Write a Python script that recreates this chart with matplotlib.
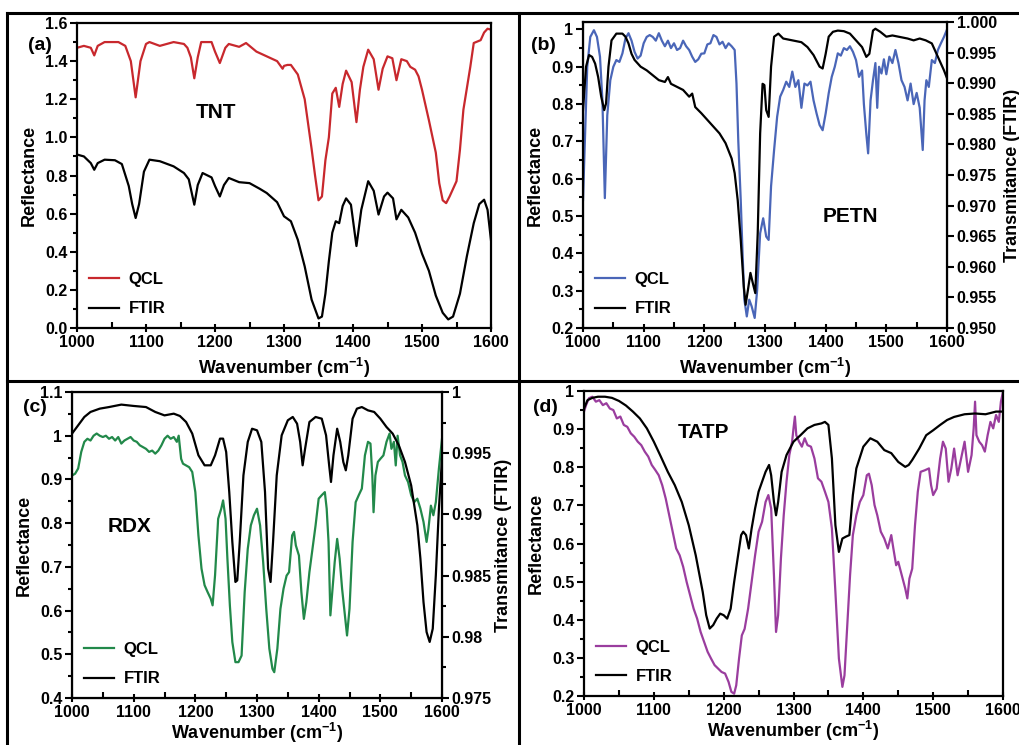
import matplotlib
matplotlib.use("Agg")
import matplotlib.pyplot as plt
from matplotlib.lines import Line2D
from matplotlib.ticker import MultipleLocator, FormatStrFormatter, FuncFormatter

plt.rcParams['font.family'] = ['Liberation Sans', 'DejaVu Sans']
plt.rcParams['font.weight'] = 'bold'
plt.rcParams['axes.labelweight'] = 'bold'
plt.rcParams['mathtext.fontset'] = 'custom'
plt.rcParams['mathtext.rm'] = 'Liberation Sans:bold'
plt.rcParams['mathtext.it'] = 'Liberation Sans:bold'
plt.rcParams['mathtext.bf'] = 'Liberation Sans:bold'

W, H = 1019, 745

# ---------------- (a) TNT ----------------
tnt_qcl_x = [1000, 1010, 1020, 1025, 1030, 1040, 1060, 1070, 1078, 1085, 1092, 1100, 1105, 1120, 1140,
             1155, 1160, 1165, 1170, 1175, 1180, 1195, 1200, 1207, 1215, 1220, 1235, 1245, 1260, 1275,
             1290, 1298, 1300, 1305, 1310, 1320, 1330, 1340, 1345, 1350, 1355, 1360, 1365, 1370, 1375,
             1380, 1385, 1390, 1398, 1405, 1410, 1415, 1422, 1430, 1437, 1443, 1450, 1457, 1463, 1470,
             1478, 1483, 1490, 1495, 1500, 1510, 1520, 1525, 1530, 1535, 1540, 1550, 1555, 1560, 1570,
             1575, 1585, 1590, 1595, 1600]
tnt_qcl = [1.47, 1.48, 1.47, 1.43, 1.48, 1.50, 1.50, 1.48, 1.40, 1.21, 1.40, 1.49, 1.50, 1.48, 1.50,
           1.49, 1.47, 1.42, 1.31, 1.42, 1.50, 1.50, 1.45, 1.39, 1.47, 1.49, 1.475, 1.495, 1.45, 1.425,
           1.40, 1.36, 1.375, 1.38, 1.38, 1.33, 1.20, 0.94, 0.80, 0.67, 0.69, 0.88, 1.0, 1.23, 1.26,
           1.16, 1.28, 1.35, 1.29, 1.08, 1.25, 1.37, 1.46, 1.41, 1.25, 1.36, 1.425, 1.415, 1.30, 1.41,
           1.40, 1.37, 1.355, 1.32, 1.25, 1.09, 0.92, 0.76, 0.67, 0.655, 0.69, 0.77, 0.935, 1.145, 1.37,
           1.495, 1.51, 1.55, 1.57, 1.565]
tnt_ftir_x = [1000, 1010, 1020, 1025, 1030, 1040, 1055, 1065, 1075, 1080, 1085, 1090, 1097, 1105, 1120,
              1140, 1155, 1162, 1170, 1175, 1182, 1195, 1200, 1207, 1213, 1220, 1235, 1250, 1265, 1275,
              1290, 1300, 1310, 1320, 1330, 1340, 1350, 1355, 1360, 1365, 1370, 1375, 1380, 1385, 1390,
              1397, 1405, 1412, 1422, 1430, 1437, 1445, 1450, 1458, 1463, 1470, 1480, 1490, 1500, 1510,
              1520, 1530, 1538, 1545, 1555, 1565, 1575, 1583, 1590, 1595, 1600]
tnt_ftir = [0.91, 0.90, 0.865, 0.83, 0.865, 0.883, 0.88, 0.86, 0.745, 0.65, 0.577, 0.65, 0.82, 0.883, 0.875,
            0.848, 0.813, 0.78, 0.647, 0.75, 0.813, 0.79, 0.745, 0.69, 0.75, 0.787, 0.765, 0.76, 0.73, 0.708,
            0.66, 0.586, 0.56, 0.463, 0.323, 0.149, 0.05, 0.06, 0.18, 0.35, 0.50, 0.56, 0.55, 0.64, 0.68,
            0.647, 0.43, 0.62, 0.77, 0.72, 0.595, 0.69, 0.71, 0.68, 0.57, 0.62, 0.58, 0.50, 0.39, 0.30,
            0.17, 0.08, 0.045, 0.06, 0.18, 0.376, 0.55, 0.65, 0.673, 0.62, 0.46]

# ---------------- (b) PETN ----------------
petn_qcl_x = [1000, 1003, 1007, 1012, 1018, 1023, 1028, 1032, 1036, 1040, 1045, 1050, 1055, 1060, 1065,
              1070, 1075, 1080, 1085, 1090, 1095, 1100, 1105, 1110, 1115, 1120, 1125, 1130, 1135, 1140,
              1145, 1150, 1155, 1160, 1165, 1170, 1175, 1180, 1185, 1190, 1195, 1200, 1205, 1210, 1215,
              1220, 1225, 1230, 1235, 1240, 1245, 1250, 1253, 1256, 1260, 1263, 1266, 1270, 1274, 1278,
              1283, 1287, 1292, 1297, 1302, 1306, 1310, 1315, 1320, 1325, 1330, 1335, 1340, 1345, 1350,
              1355, 1360, 1365, 1370, 1375, 1380, 1385, 1390, 1395, 1400, 1405, 1410, 1415, 1420, 1425,
              1430, 1435, 1440, 1445, 1450, 1455, 1460, 1463, 1467, 1470, 1474, 1478, 1482, 1485, 1488,
              1492, 1496, 1500, 1505, 1510, 1515, 1520, 1525, 1530, 1535, 1540, 1545, 1550, 1555, 1558,
              1560, 1563, 1566, 1570, 1575, 1580, 1585, 1590, 1595, 1600]
petn_qcl = [0.543, 0.70, 0.90, 0.98, 0.998, 0.98, 0.927, 0.81, 0.548, 0.77, 0.864, 0.90, 0.918, 0.913, 0.936,
            0.976, 0.99, 0.97, 0.94, 0.922, 0.93, 0.963, 0.98, 0.985, 0.98, 0.97, 0.99, 0.97, 0.955, 0.97,
            0.95, 0.963, 0.945, 0.95, 0.97, 0.955, 0.945, 0.927, 0.913, 0.92, 0.935, 0.936, 0.96, 0.963, 0.985,
            0.98, 0.96, 0.967, 0.95, 0.963, 0.955, 0.945, 0.855, 0.70, 0.543, 0.40, 0.276, 0.231, 0.276, 0.258,
            0.227, 0.30, 0.454, 0.494, 0.445, 0.436, 0.58, 0.677, 0.766, 0.82, 0.838, 0.86, 0.846, 0.887, 0.846,
            0.864, 0.79, 0.855, 0.85, 0.86, 0.81, 0.775, 0.744, 0.73, 0.775, 0.829, 0.873, 0.90, 0.936, 0.93,
            0.95, 0.945, 0.955, 0.94, 0.918, 0.873, 0.89, 0.80, 0.72, 0.668, 0.81, 0.864, 0.91, 0.79, 0.90,
            0.882, 0.92, 0.88, 0.927, 0.91, 0.945, 0.91, 0.864, 0.846, 0.81, 0.855, 0.80, 0.83, 0.79, 0.72,
            0.677, 0.81, 0.864, 0.846, 0.918, 0.91, 0.945, 0.963, 0.98, 1.0]
petn_ftir_x = [1000, 1005, 1010, 1015, 1020, 1025, 1030, 1035, 1038, 1042, 1047, 1055, 1065, 1070, 1075,
               1080, 1085, 1095, 1105, 1115, 1125, 1135, 1140, 1145, 1155, 1165, 1175, 1180, 1185, 1195,
               1205, 1215, 1225, 1235, 1245, 1250, 1255, 1260, 1265, 1268, 1272, 1276, 1280, 1284, 1288,
               1292, 1296, 1299, 1302, 1306, 1310, 1315, 1322, 1330, 1345, 1360, 1370, 1380, 1390, 1395,
               1400, 1405, 1412, 1420, 1430, 1440, 1450, 1460, 1467, 1472, 1478, 1482, 1490, 1500, 1510,
               1520, 1535, 1545, 1555, 1565, 1575, 1585, 1595, 1600]
petn_ftir = [0.9856, 0.9927, 0.9946, 0.9943, 0.9932, 0.9910, 0.9878, 0.9856, 0.9867, 0.9927, 0.9970, 0.9981,
             0.9981, 0.9976, 0.9965, 0.9948, 0.9938, 0.9927, 0.9921, 0.9913, 0.9905, 0.9902, 0.9910, 0.9899,
             0.9894, 0.9889, 0.9878, 0.9883, 0.9861, 0.9851, 0.9840, 0.9829, 0.9818, 0.9802, 0.9777, 0.9753,
             0.9709, 0.9644, 0.9568, 0.9538, 0.9563, 0.9590, 0.9573, 0.9557, 0.9655, 0.9818, 0.9899, 0.9897,
             0.9856, 0.9845, 0.9927, 0.9976, 0.9981, 0.9973, 0.9970, 0.9967, 0.9959, 0.9946, 0.9927, 0.9924,
             0.9948, 0.9976, 0.9984, 0.9986, 0.9985, 0.9981, 0.9970, 0.9959, 0.9943, 0.9948, 0.9986, 0.9989,
             0.9984, 0.9976, 0.9978, 0.9976, 0.9973, 0.9970, 0.9973, 0.9970, 0.9965, 0.9943, 0.9921, 0.9908]

# ---------------- (c) RDX ----------------
rdx_qcl_x = [1000, 1005, 1010, 1015, 1020, 1025, 1030, 1035, 1040, 1045, 1050, 1055, 1060, 1065, 1070,
             1075, 1080, 1085, 1090, 1095, 1100, 1105, 1110, 1115, 1120, 1125, 1130, 1135, 1140, 1145,
             1150, 1155, 1160, 1165, 1170, 1173, 1177, 1180, 1185, 1190, 1195, 1200, 1205, 1210, 1215,
             1220, 1225, 1228, 1232, 1237, 1242, 1245, 1249, 1252, 1256, 1260, 1265, 1270, 1275, 1280,
             1285, 1290, 1295, 1300, 1305, 1310, 1315, 1320, 1325, 1328, 1333, 1338, 1343, 1348, 1352,
             1357, 1360, 1363, 1368, 1372, 1376, 1380, 1385, 1390, 1395, 1400, 1405, 1410, 1413, 1416,
             1419, 1422, 1426, 1430, 1434, 1438, 1442, 1446, 1450, 1455, 1460, 1465, 1470, 1475, 1480,
             1484, 1487, 1489, 1492, 1496, 1500, 1505, 1510, 1515, 1518, 1522, 1525, 1528, 1532, 1536,
             1540, 1545, 1550, 1555, 1560, 1565, 1570, 1575, 1578, 1582, 1586, 1590, 1595, 1600]
rdx_qcl = [0.909, 0.913, 0.925, 0.963, 0.986, 0.993, 0.989, 1.0, 1.005, 1.0, 0.997, 1.0, 0.993, 0.997, 0.989,
           0.997, 0.982, 0.989, 0.993, 0.997, 0.989, 0.986, 0.978, 0.974, 0.970, 0.963, 0.966, 0.959, 0.966, 0.978,
           0.993, 1.0, 0.993, 0.997, 0.986, 1.0, 0.947, 0.936, 0.932, 0.928, 0.917, 0.871, 0.772, 0.696, 0.658,
           0.642, 0.627, 0.612, 0.681, 0.81, 0.833, 0.852, 0.81, 0.719, 0.612, 0.528, 0.482, 0.482, 0.497, 0.642,
           0.741, 0.795, 0.818, 0.833, 0.795, 0.711, 0.604, 0.513, 0.467, 0.459, 0.513, 0.604, 0.65, 0.68, 0.688,
           0.772, 0.78, 0.749, 0.726, 0.642, 0.581, 0.619, 0.688, 0.741, 0.795, 0.856, 0.864, 0.871, 0.833, 0.757,
           0.589, 0.642, 0.711, 0.764, 0.719, 0.65, 0.597, 0.543, 0.604, 0.757, 0.848, 0.864, 0.879, 0.955, 0.986,
           0.982, 0.909, 0.825, 0.909, 0.94, 0.947, 0.955, 0.986, 1.005, 0.97, 0.986, 0.932, 1.0, 0.955, 0.94,
           0.909, 0.894, 0.864, 0.848, 0.856, 0.833, 0.803, 0.757, 0.787, 0.84, 0.818, 0.848, 0.925, 0.993]
rdx_ftir_x = [1000, 1010, 1020, 1030, 1045, 1060, 1080, 1100, 1120, 1135, 1150, 1165, 1175, 1185, 1195,
              1205, 1215, 1225, 1232, 1240, 1245, 1250, 1255, 1260, 1265, 1268, 1272, 1278, 1285, 1292,
              1300, 1307, 1313, 1318, 1322, 1326, 1332, 1340, 1350, 1358, 1365, 1370, 1374, 1378, 1385,
              1395, 1405, 1412, 1417, 1420, 1424, 1430, 1435, 1440, 1444, 1448, 1455, 1462, 1470, 1480,
              1490, 1500, 1510, 1520, 1530, 1540, 1550, 1560, 1565, 1570, 1575, 1580, 1585, 1590, 1595, 1600]
rdx_ftir = [0.99660, 0.99728, 0.99796, 0.99837, 0.99864, 0.99877, 0.99897, 0.99886, 0.99877, 0.99837, 0.99809,
            0.99823, 0.99804, 0.99755, 0.99660, 0.99483, 0.99401, 0.99401, 0.99483, 0.99619, 0.99619, 0.99510,
            0.99183, 0.98775, 0.98448, 0.98461, 0.98775, 0.99319, 0.99592, 0.99700, 0.99687, 0.99592, 0.99183,
            0.98557, 0.98448, 0.98775, 0.99319, 0.99646, 0.99769, 0.99796, 0.99741, 0.99592, 0.99401, 0.99537,
            0.99755, 0.99796, 0.99782, 0.99646, 0.99401, 0.99265, 0.99483, 0.99700, 0.99592, 0.99428, 0.99360,
            0.99483, 0.99782, 0.99864, 0.99877, 0.99850, 0.99837, 0.99782, 0.99714, 0.99660, 0.99564, 0.99428,
            0.99237, 0.98911, 0.98638, 0.98284, 0.98039, 0.97958, 0.98066, 0.98502, 0.99047, 0.99455]

# ---------------- (d) TATP ----------------
tatp_qcl_x = [1000, 1003, 1007, 1012, 1017, 1022, 1027, 1032, 1037, 1042, 1047, 1052, 1057, 1062, 1067,
              1072, 1077, 1082, 1087, 1092, 1097, 1102, 1107, 1112, 1117, 1122, 1127, 1132, 1137, 1142,
              1147, 1152, 1157, 1162, 1167, 1172, 1177, 1182, 1187, 1192, 1197, 1202, 1207, 1211, 1215,
              1218, 1222, 1226, 1230, 1235, 1240, 1245, 1250, 1255, 1260, 1264, 1268, 1272, 1275, 1278,
              1282, 1286, 1290, 1294, 1298, 1300, 1302, 1304, 1308, 1312, 1316, 1320, 1325, 1330, 1335,
              1340, 1345, 1350, 1355, 1360, 1365, 1370, 1373, 1377, 1381, 1385, 1390, 1395, 1400, 1405,
              1408, 1412, 1416, 1420, 1425, 1430, 1435, 1440, 1443, 1447, 1450, 1455, 1460, 1463, 1466,
              1470, 1474, 1478, 1482, 1488, 1494, 1497, 1500, 1505, 1510, 1514, 1518, 1522, 1526, 1530,
              1535, 1540, 1545, 1550, 1555, 1558, 1560, 1562, 1566, 1570, 1574, 1578, 1582, 1586, 1590,
              1594, 1597, 1600]
tatp_qcl = [0.946, 0.963, 0.981, 0.985, 0.972, 0.976, 0.963, 0.968, 0.954, 0.950, 0.928, 0.933, 0.911, 0.906, 0.889,
            0.880, 0.867, 0.858, 0.841, 0.828, 0.806, 0.793, 0.779, 0.753, 0.718, 0.674, 0.631, 0.587, 0.569, 0.539,
            0.499, 0.464, 0.429, 0.403, 0.368, 0.342, 0.316, 0.298, 0.281, 0.272, 0.263, 0.259, 0.237, 0.211, 0.206,
            0.228, 0.298, 0.359, 0.376, 0.429, 0.499, 0.569, 0.631, 0.657, 0.709, 0.727, 0.692, 0.517, 0.368, 0.412,
            0.561, 0.674, 0.762, 0.832, 0.867, 0.902, 0.933, 0.884, 0.867, 0.854, 0.876, 0.858, 0.854, 0.823, 0.771,
            0.762, 0.736, 0.709, 0.639, 0.473, 0.298, 0.224, 0.254, 0.386, 0.517, 0.622, 0.674, 0.709, 0.727, 0.779,
            0.783, 0.753, 0.701, 0.674, 0.631, 0.613, 0.587, 0.622, 0.587, 0.543, 0.552, 0.517, 0.482, 0.456, 0.508,
            0.534, 0.648, 0.736, 0.788, 0.792, 0.797, 0.753, 0.727, 0.744, 0.823, 0.867, 0.849, 0.762, 0.797, 0.849,
            0.779, 0.823, 0.867, 0.788, 0.832, 0.902, 0.972, 0.884, 0.867, 0.858, 0.841, 0.884, 0.919, 0.902, 0.937,
            0.919, 0.972, 0.998]
tatp_ftir_x = [1000, 1005, 1012, 1020, 1030, 1040, 1050, 1060, 1070, 1080, 1090, 1100, 1110, 1120, 1130,
               1140, 1150, 1160, 1170, 1175, 1180, 1185, 1190, 1195, 1200, 1205, 1210, 1215, 1220, 1225,
               1228, 1232, 1236, 1240, 1245, 1250, 1255, 1260, 1265, 1268, 1272, 1275, 1278, 1283, 1290,
               1300, 1310, 1320, 1330, 1340, 1345, 1350, 1355, 1360, 1365, 1370, 1375, 1380, 1385, 1390,
               1400, 1410, 1420, 1430, 1440, 1450, 1460, 1465, 1470, 1480, 1490, 1500, 1510, 1520, 1530,
               1545, 1560, 1575, 1590, 1600]
tatp_ftir = [0.954, 0.976, 0.982, 0.985, 0.985, 0.982, 0.974, 0.962, 0.946, 0.928, 0.902, 0.867, 0.828, 0.788, 0.753,
             0.709, 0.648, 0.569, 0.473, 0.412, 0.377, 0.386, 0.403, 0.416, 0.412, 0.403, 0.429, 0.499, 0.561, 0.622,
             0.631, 0.622, 0.587, 0.639, 0.692, 0.736, 0.762, 0.788, 0.806, 0.779, 0.709, 0.674, 0.709, 0.788, 0.832,
             0.867, 0.884, 0.902, 0.911, 0.915, 0.919, 0.911, 0.823, 0.648, 0.578, 0.613, 0.618, 0.622, 0.727, 0.797,
             0.854, 0.876, 0.867, 0.845, 0.837, 0.814, 0.801, 0.806, 0.819, 0.849, 0.884, 0.897, 0.911, 0.924, 0.932,
             0.939, 0.941, 0.939, 0.946, 0.946]

wn_ticks = [1000, 1100, 1200, 1300, 1400, 1500, 1600]

RED = '#C8282D'
BLUE = '#4A66B8'
GREEN = '#22894A'
PURPLE = '#9A3D9E'

TICK_SIZE = 11.5
LEG = dict(loc='lower left', frameon=False, fontsize=12, handlelength=1.8, labelspacing=0.85,
           borderaxespad=0.3, handletextpad=0.6)


def box(px_left, px_top, px_right, px_bottom):
    return [px_left / W, 1 - px_bottom / H, (px_right - px_left) / W, (px_bottom - px_top) / H]


def style_axis(ax, ymajor, yminor, fmt, xpad=4):
    ax.set_xlim(1000, 1600)
    ax.set_xticks(wn_ticks)
    ax.xaxis.set_minor_locator(MultipleLocator(50))
    ax.yaxis.set_major_locator(MultipleLocator(ymajor))
    ax.yaxis.set_minor_locator(MultipleLocator(yminor))
    ax.yaxis.set_major_formatter(fmt)
    ax.tick_params(axis='x', which='major', direction='inout', length=6, width=1.5, labelsize=TICK_SIZE, pad=2)
    ax.tick_params(axis='x', which='minor', direction='in', length=4, width=1.5)
    ax.tick_params(axis='y', which='major', direction='out', length=5, width=1.5, labelsize=TICK_SIZE, pad=2)
    ax.tick_params(axis='y', which='minor', direction='out', length=3, width=1.5)
    for s in ax.spines.values():
        s.set_linewidth(1.6)
    ax.set_xlabel('Wavenumber (cm$^{-1}$)', fontsize=13, labelpad=xpad)
    ax.set_ylabel('Reflectance', fontsize=13, labelpad=5)


def short_fmt(v, pos):
    if abs(v - round(v)) < 1e-9:
        return '%d' % round(v)
    return ('%.3f' % v).rstrip('0')


def right_axis(ax2, lo, hi, fmt, minor=None):
    ax2.set_ylim(lo, hi)
    ax2.yaxis.set_major_locator(MultipleLocator(0.005))
    if minor:
        ax2.yaxis.set_minor_locator(MultipleLocator(minor))
    ax2.yaxis.set_major_formatter(fmt)
    ax2.tick_params(axis='y', which='major', direction='out', length=5, width=1.5, labelsize=TICK_SIZE, pad=2)
    ax2.tick_params(axis='y', which='minor', direction='out', length=3, width=1.5)


fig = plt.figure(figsize=(W / 100, H / 100), dpi=100)

# (a)
ax_a = fig.add_axes(box(77, 23, 491, 328))
ax_a.plot(tnt_qcl_x, tnt_qcl, color=RED, lw=1.6, label='QCL')
ax_a.plot(tnt_ftir_x, tnt_ftir, color='black', lw=1.6, label='FTIR')
ax_a.set_ylim(0, 1.6)
style_axis(ax_a, 0.2, 0.1, FormatStrFormatter('%.1f'))
ax_a.legend(**LEG)

# (b)
ax_b = fig.add_axes(box(583, 22, 947, 328))
ax_b.plot(petn_qcl_x, petn_qcl, color=BLUE, lw=1.6, label='QCL')
ax_b.set_ylim(0.2, 1.02)
style_axis(ax_b, 0.1, 0.05, FuncFormatter(short_fmt))
ax_b2 = ax_b.twinx()
ax_b2.plot(petn_ftir_x, petn_ftir, color='black', lw=1.6, label='FTIR')
right_axis(ax_b2, 0.95, 1.0, FormatStrFormatter('%.3f'))
ax_b2.set_ylabel('Transmitance (FTIR)', fontsize=13, labelpad=5)
h1, l1 = ax_b.get_legend_handles_labels()
h2, l2 = ax_b2.get_legend_handles_labels()
ax_b2.legend(h1 + h2, l1 + l2, **LEG)

# (c)
ax_c = fig.add_axes(box(72, 392, 442, 698))
ax_c.plot(rdx_qcl_x, rdx_qcl, color=GREEN, lw=1.6, label='QCL')
ax_c.set_ylim(0.4, 1.1)
style_axis(ax_c, 0.1, 0.05, FuncFormatter(short_fmt), xpad=1)
ax_c2 = ax_c.twinx()
ax_c2.plot(rdx_ftir_x, rdx_ftir, color='black', lw=1.6, label='FTIR')
right_axis(ax_c2, 0.975, 1.0, FuncFormatter(short_fmt), minor=0.0025)
ax_c2.set_ylabel('Transmitance (FTIR)', fontsize=13, labelpad=2)
h1, l1 = ax_c.get_legend_handles_labels()
h2, l2 = ax_c2.get_legend_handles_labels()
ax_c2.legend(h1 + h2, l1 + l2, **LEG)

# (d)
ax_d = fig.add_axes(box(584, 391, 1003, 696))
ax_d.plot(tatp_qcl_x, tatp_qcl, color=PURPLE, lw=1.6, label='QCL')
ax_d.plot(tatp_ftir_x, tatp_ftir, color='black', lw=1.6, label='FTIR')
ax_d.set_ylim(0.2, 1.0)
style_axis(ax_d, 0.1, 0.05, FuncFormatter(short_fmt), xpad=1)
ax_d.legend(**LEG)

# panel letters and compound names
for txt, px, py in [('(a)', 40, 45), ('(b)', 543, 45), ('(c)', 35, 408), ('(d)', 545, 408)]:
    fig.text(px / W, 1 - py / H, txt, fontsize=14, ha='center', va='center')
for txt, px, py in [('TNT', 216, 113), ('PETN', 850, 217), ('RDX', 130, 527), ('TATP', 703, 433)]:
    fig.text(px / W, 1 - py / H, txt, fontsize=15, ha='center', va='center')

# panel frame lines
for (x0, y0, x1, y1) in [(7, 13, W, 13), (7, 381, W, 381), (7, 13, 7, H), (519, 13, 519, H)]:
    fig.add_artist(Line2D([x0 / W, x1 / W], [1 - y0 / H, 1 - y1 / H], transform=fig.transFigure,
                          color='black', lw=2.2))

plt.savefig('out.png', dpi=100)
